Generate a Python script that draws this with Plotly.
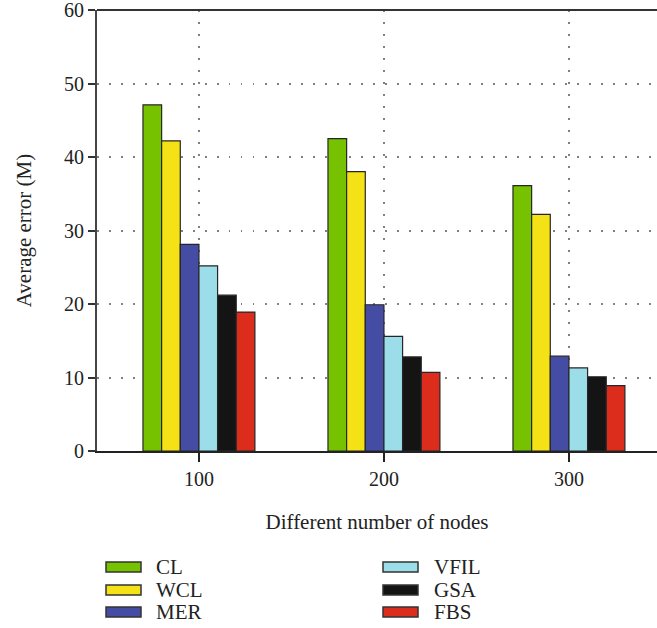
import plotly.graph_objects as go

nodes = [100, 200, 300]
series_names = ["CL", "WCL", "MER", "VFIL", "GSA", "FBS"]
cl = [47.1, 42.5, 36.1]
wcl = [42.2, 38.0, 32.2]
mer = [28.1, 19.9, 12.9]
vfil = [25.2, 15.6, 11.3]
gsa = [21.2, 12.8, 10.1]
fbs = [18.9, 10.7, 8.9]
colors = ["#76c200", "#f5e216", "#444ca4", "#9bdde9", "#141414", "#dc2c1c"]
values = [cl, wcl, mer, vfil, gsa, fbs]

FONT = "Liberation Serif"
W, H = 657, 628
L, R, T, B = 97, 0, 10, 177
PW, PH = W - L - R, H - T - B


def px_x(px):
    return (px - L) / PW


def px_y(py):
    return (H - B - py) / PH


fig = go.Figure()
for name, vals, col in zip(series_names, values, colors):
    fig.add_trace(go.Bar(
        x=nodes, y=vals, name=name, showlegend=False,
        marker=dict(color=col, line=dict(color="#262626", width=1.2)),
    ))

fig.update_layout(
    width=W, height=H,
    margin=dict(l=L, r=R, t=T, b=B, autoexpand=False),
    paper_bgcolor="white", plot_bgcolor="white",
    barmode="group", bargap=0.395, bargroupgap=0,
    font=dict(family=FONT, size=21, color="#222"),
    showlegend=False,
)

fig.update_xaxes(
    range=[44.9, 347.6], tickvals=nodes, ticktext=[str(n) for n in nodes],
    showline=True, linecolor="#222", linewidth=2, mirror=False,
    ticks="outside", ticklen=9, tickwidth=1.5, tickcolor="#222",
    showgrid=True, gridcolor="#808080", gridwidth=1.5, griddash="1.5px,10.5px",
    zeroline=False, automargin=False, ticklabeloverflow="allow",
    title=dict(text="Different number of nodes", font=dict(size=21, family=FONT), standoff=25),
    tickfont=dict(size=20, family=FONT),
)
fig.update_yaxes(
    range=[0, 60], tickvals=[0, 10, 20, 30, 40, 50, 60],
    showline=True, linecolor="#444", linewidth=2,
    ticks="outside", ticklen=7, tickwidth=1.5, tickcolor="#333",
    showgrid=True, gridcolor="#808080", gridwidth=1.5, griddash="1.5px,10.5px",
    zeroline=False, automargin=False, ticklabeloverflow="allow",
    title=dict(text="Average error (M)", font=dict(size=21, family=FONT), standoff=27),
    tickfont=dict(size=20, family=FONT),
)

# top border line
fig.add_shape(type="line", xref="paper", yref="paper", x0=0, x1=1, y0=1, y1=1,
              line=dict(color="#333", width=2))

# legend (two columns of three)
col_swatch_x = [106, 383]
col_text_x = [154, 432]
row_y = [567, 590, 612]
for i, (name, col) in enumerate(zip(series_names, colors)):
    c, r = divmod(i, 3)
    sx = col_swatch_x[c]
    cy = row_y[r]
    fig.add_shape(type="rect", xref="paper", yref="paper",
                  x0=px_x(sx), x1=px_x(sx + 35), y0=px_y(cy + 5), y1=px_y(cy - 5),
                  fillcolor=col, line=dict(color="#333", width=1.5))
    fig.add_annotation(xref="paper", yref="paper", x=px_x(col_text_x[c]), y=px_y(cy),
                       text=name, showarrow=False, xanchor="left", yanchor="middle",
                       font=dict(size=21, family=FONT, color="#222"))

fig.write_html("out.html", config={"displayModeBar": False},
               post_script="document.body.style.margin='0';document.body.style.overflow='hidden';")
